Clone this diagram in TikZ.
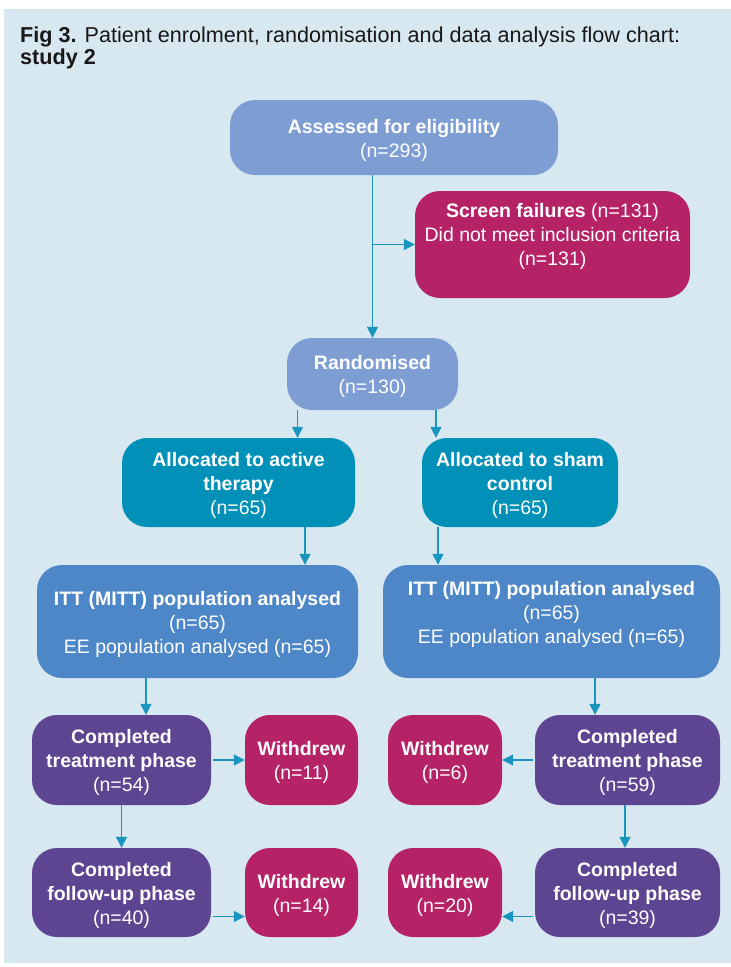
\documentclass[tikz,border=0pt]{standalone}
\usepackage{fontspec}
\setmainfont{Liberation Sans}
\usetikzlibrary{arrows.meta}
\definecolor{bg}{HTML}{D7E8F1}
\definecolor{lblue}{HTML}{7E9ED3}
\definecolor{magen}{HTML}{B52265}
\definecolor{teal}{HTML}{0090B8}
\definecolor{mblue}{HTML}{4D87C7}
\definecolor{purp}{HTML}{5D4591}
\definecolor{arrc}{HTML}{1A96BE}
\definecolor{ttl}{HTML}{1A1718}
\tikzset{
  box/.style={rounded corners=25pt, draw=none, text=white, align=center, inner sep=0pt,
    font=\fontsize{19.5}{24}\selectfont},
  boxtext/.style={text=white, align=center, inner sep=0pt, font=\fontsize{19.5}{24}\selectfont},
  arr/.style={draw=arrc, line width=1.5pt, -{Triangle[length=11pt,width=11pt]}},
  ttlstyle/.style={anchor=base west, inner sep=0pt, text=ttl, font=\fontsize{21.6}{24}\selectfont}
}
\begin{document}
\begin{tikzpicture}[x=1pt,y=-1pt]
\useasboundingbox (0,0) rectangle (731,967);
\fill[bg] (4,9) rectangle (731,963);

\node[ttlstyle] (t1) at (20,42) {\textbf{Fig 3.} Patient enrolment, randomisation and data analysis flow chart:};
\node[ttlstyle] (t2) at (20,64) {\textbf{study 2}};

\node[box, fill=lblue, minimum width=328pt, minimum height=75pt] (as) at (394,137.5) {};
\node[boxtext] (ast) at (394,140) {\textbf{Assessed for eligibility}\\(n=293)};
\node[box, fill=magen, minimum width=275pt, minimum height=107pt] (sf) at (552.5,244.5) {};
\node[boxtext] (sft) at (552.5,236) {\textbf{Screen failures} (n=131)\\Did not meet inclusion criteria\\(n=131)};
\node[box, fill=lblue, minimum width=171pt, minimum height=72pt] (rd) at (372.5,374) {};
\node[boxtext] (rdt) at (372.5,376) {\textbf{Randomised}\\(n=130)};
\node[box, fill=teal, minimum width=233pt, minimum height=89pt] (act) at (238.5,482.5) {};
\node[boxtext] (actt) at (238.5,485) {\textbf{Allocated to active}\\\textbf{therapy}\\(n=65)};
\node[box, fill=teal, minimum width=196pt, minimum height=89pt] (sh) at (520,482.5) {};
\node[boxtext] (sht) at (520,485) {\textbf{Allocated to sham}\\\textbf{control}\\(n=65)};
\node[box, fill=mblue, minimum width=321pt, minimum height=113pt] (itl) at (197.5,621.5) {};
\node[boxtext] (itlt) at (197.5,624) {\textbf{ITT (MITT) population analysed}\\(n=65)\\EE population analysed (n=65)};
\node[box, fill=mblue, minimum width=337pt, minimum height=113pt] (itr) at (551.5,621.5) {};
\node[boxtext] (itrt) at (551.5,614) {\textbf{ITT (MITT) population analysed}\\(n=65)\\EE population analysed (n=65)};

\node[box, fill=purp, minimum width=179pt, minimum height=90pt] (ctl) at (121.5,760) {};
\node[boxtext] (ctlt) at (121.5,762) {\textbf{Completed}\\\textbf{treatment phase}\\(n=54)};
\node[box, fill=magen, minimum width=113pt, minimum height=90pt] (w11) at (301.5,760) {};
\node[boxtext] (w11t) at (301.5,762) {\textbf{Withdrew}\\(n=11)};
\node[box, fill=magen, minimum width=114pt, minimum height=90pt] (w6) at (445,760) {};
\node[boxtext] (w6t) at (445,762) {\textbf{Withdrew}\\(n=6)};
\node[box, fill=purp, minimum width=185pt, minimum height=90pt] (ctr) at (627.5,760) {};
\node[boxtext] (ctrt) at (627.5,762) {\textbf{Completed}\\\textbf{treatment phase}\\(n=59)};

\node[box, fill=purp, minimum width=179pt, minimum height=89pt] (ful) at (121.5,892.5) {};
\node[boxtext] (fult) at (121.5,895) {\textbf{Completed}\\\textbf{follow-up phase}\\(n=40)};
\node[box, fill=magen, minimum width=113pt, minimum height=89pt] (w14) at (301.5,892.5) {};
\node[boxtext] (w14t) at (301.5,895) {\textbf{Withdrew}\\(n=14)};
\node[box, fill=magen, minimum width=114pt, minimum height=89pt] (w20) at (445,892.5) {};
\node[boxtext] (w20t) at (445,895) {\textbf{Withdrew}\\(n=20)};
\node[box, fill=purp, minimum width=185pt, minimum height=89pt] (fur) at (627.5,892.5) {};
\node[boxtext] (furt) at (627.5,895) {\textbf{Completed}\\\textbf{follow-up phase}\\(n=39)};

% connectors
\coordinate (top) at (as.south -| rd.north);
\draw[arr] (top) -- (rd.north);
\coordinate (br) at (rd.north |- sf.west);
\draw[arr] (br) -- (sf.west);
\coordinate (r1) at ([xshift=-75pt]rd.south);
\draw[arr] (r1) -- (r1 |- act.north);
\coordinate (r2) at ([xshift=63.5pt]rd.south);
\draw[arr] (r2) -- (r2 |- sh.north);
\coordinate (a1) at ([xshift=66.5pt]act.south);
\draw[arr] (a1) -- (a1 |- itl.north);
\coordinate (a2) at ([xshift=-82pt]sh.south);
\draw[arr] (a2) -- (a2 |- itr.north);
\coordinate (i1) at ([xshift=-51.5pt]itl.south);
\draw[arr] (i1) -- (i1 |- ctl.north);
\coordinate (i2) at ([xshift=43.5pt]itr.south);
\draw[arr] (i2) -- (i2 |- ctr.north);
\draw[arr] ([xshift=2pt]ctl.east) -- (w11.west);
\draw[arr] ([xshift=-2pt]ctr.west) -- (w6.east);
\draw[arr] (ctl.south) -- (ful.north);
\coordinate (c2) at ([xshift=-2.5pt]ctr.south);
\draw[arr] (c2) -- (c2 |- fur.north);
\coordinate (f1) at ([xshift=2pt,yshift=-24pt]ful.east);
\draw[arr] (f1) -- (f1 -| w14.west);
\coordinate (f2) at ([xshift=-2pt,yshift=-24pt]fur.west);
\draw[arr] (f2) -- (f2 -| w20.east);
\end{tikzpicture}
\end{document}
